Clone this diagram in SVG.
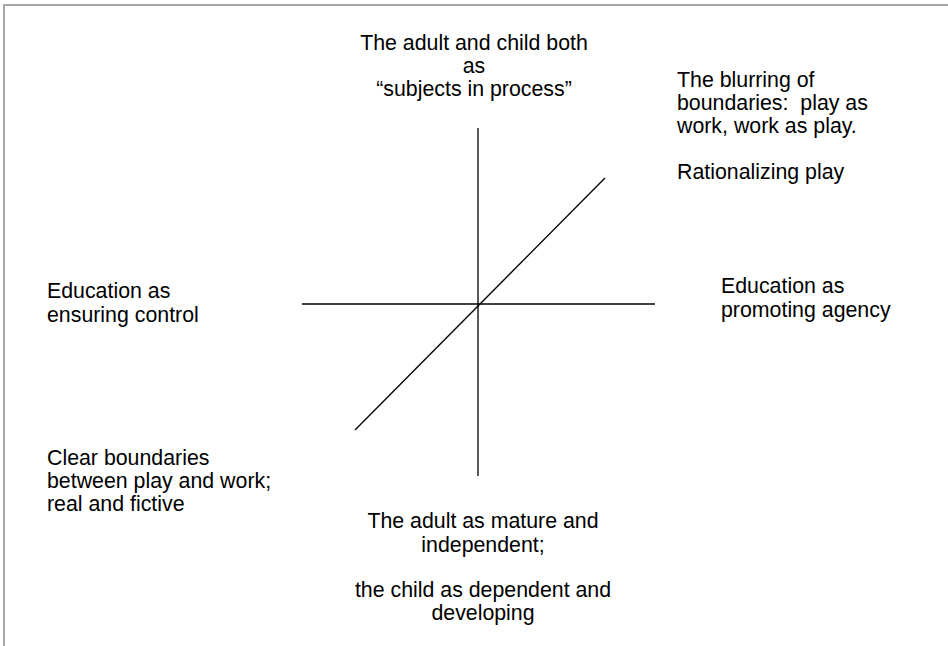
<svg xmlns="http://www.w3.org/2000/svg" width="948" height="646" viewBox="0 0 948 646">
<style>
text{font-family:"Liberation Sans",Arial,sans-serif;font-size:21.33px;fill:#000}
.c{text-anchor:middle}
.ax{stroke:#000;stroke-width:1.3;fill:none}
.frame{stroke:#a6a6a6;stroke-width:2;fill:none}
</style>
<rect width="948" height="646" fill="#fff"/>
<path class="frame" d="M4,646 V5 H948"/>
<g id="connectors">
<line class="ax" x1="478" y1="128" x2="478" y2="476"/>
<line class="ax" x1="302" y1="304" x2="655" y2="304"/>
<line class="ax" x1="355" y1="430" x2="605" y2="178"/>
</g>
<g id="top">
<text class="c" x="474" y="50">The adult and child both</text>
<text class="c" x="474" y="73">as</text>
<text class="c" x="474" y="96">“subjects in process”</text>
</g>
<g id="upper-right">
<text x="677" y="87">The blurring of</text>
<text x="677" y="110" xml:space="preserve">boundaries:  play as</text>
<text x="677" y="133">work, work as play.</text>
<text x="677" y="179">Rationalizing play</text>
</g>
<g id="left">
<text x="47" y="298">Education as</text>
<text x="47" y="322">ensuring control</text>
</g>
<g id="right">
<text x="721" y="293">Education as</text>
<text x="721" y="317">promoting agency</text>
</g>
<g id="lower-left">
<text x="47" y="465">Clear boundaries</text>
<text x="47" y="488">between play and work;</text>
<text x="47" y="511">real and fictive</text>
</g>
<g id="bottom">
<text class="c" x="483" y="528">The adult as mature and</text>
<text class="c" x="483" y="552">independent;</text>
<text class="c" x="483" y="597">the child as dependent and</text>
<text class="c" x="483" y="620">developing</text>
</g>
</svg>
